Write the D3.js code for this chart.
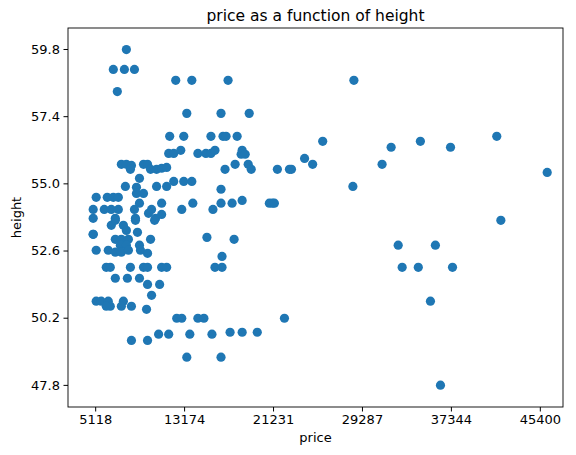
<!DOCTYPE html>
<html><head><meta charset="utf-8">
<script src="https://cdn.jsdelivr.net/npm/d3@7"></script>
<style>body{margin:0;background:#fff}text{font-family:"DejaVu Sans",sans-serif}</style>
</head><body><svg id="c" width="576" height="455"></svg>
<script>
const prices = [7945,6760,7763,8675,7124,12414,13873,17156,13417,16518,19072,11867,13144,15606,16700,16974,17977,
11776,12232,12870,14420,15150,15606,15971,18433,18342,18707,
7489,7945,8401,8310,9496,9861,10134,10681,11137,11593,16883,17795,18981,19254,
9131,7854,8858,8858,9496,10681,11593,12232,13144,13873,16518,
5209,6212,6760,7216,4936,5939,6577,7216,8675,9131,9952,10225,11137,11137,12961,13964,15788,16518,17521,18433,20896,
4936,6942,8766,10590,10499,4936,6577,6942,7672,8766,7945,8949,4936,6942,7489,8128,7398,7945,9131,10134,15241,17704,
5209,6304,6942,7489,8128,9222,9861,16609,6121,6486,8310,9496,9861,11137,11593,15971,16609,
6942,8036,9131,9861,10955,10225,5209,5665,6304,6486,6121,7672,7489,8401,9770,
12505,12961,14420,14968,8401,9861,10864,11776,13691,15697,17339,18433,19802,13417,16518,
21169,21625,22718,22900,24088,24818,25730,28556,28465,31110,31930,34580,37310,41500,46070,41870,32570,32930,34390,35940,35490,37490,36400,22264,21352];
const heights = [59.78,59.07,59.07,59.07,58.28,58.68,58.68,58.68,57.50,57.50,57.50,56.68,56.68,56.68,56.68,56.68,56.68,
56.07,56.07,56.18,56.07,56.07,56.07,56.18,56.18,56.04,56.04,
55.68,55.68,55.64,55.50,55.68,55.68,55.50,55.50,55.54,55.57,55.50,55.68,55.68,55.50,
55.18,54.89,54.86,54.64,54.64,54.89,54.89,55.07,55.07,55.07,54.79,
54.50,54.50,54.50,54.50,54.07,54.07,54.07,54.07,54.07,54.29,53.93,54.07,54.29,53.89,54.07,54.29,54.07,54.29,54.29,54.39,54.29,
53.75,53.75,53.75,53.75,53.68,53.18,53.50,53.68,53.50,53.68,53.32,53.25,53.18,53.00,53.00,53.00,52.79,52.79,52.79,53.00,53.07,53.00,
52.61,52.61,52.54,52.54,52.61,52.61,52.50,52.39,52.00,52.00,52.00,52.00,52.00,52.00,52.00,52.00,52.00,
51.61,51.61,51.61,51.39,51.39,51.00,50.79,50.79,50.79,50.61,50.61,50.79,50.61,50.61,50.50,
50.18,50.18,50.18,50.18,49.39,49.39,49.61,49.61,49.61,49.61,49.68,49.68,49.68,48.79,48.79,
54.29,55.50,55.50,55.50,55.89,55.68,56.50,58.68,54.89,55.68,56.29,56.50,56.29,56.68,55.39,53.68,52.79,52.00,52.00,52.79,50.79,52.00,47.79,50.18,54.29];
const xTicks = [5118,13174,21231,29287,37344,45400];
const yTicks = [47.8,50.2,52.6,55.0,57.4,59.8];

const svg = d3.select("#c");
const L=68,R=563,T=28,B=407;
const x = d3.scaleLinear().domain([2655,47500]).range([L,R]);
const y = d3.scaleLinear().domain([47.01,60.55]).range([B,T]);
svg.append("g").selectAll("circle").data(prices).join("circle")
 .attr("cx",(d,i)=>x(d)).attr("cy",(d,i)=>y(heights[i])).attr("r",4.6).attr("fill","#1f77b4");
const xa = svg.append("g").attr("transform",`translate(0,${B})`).call(d3.axisBottom(x).tickValues(xTicks).tickFormat(d3.format("d")).tickSize(4.5).tickPadding(3.5));
const ya = svg.append("g").attr("transform",`translate(${L},0)`).call(d3.axisLeft(y).tickValues(yTicks).tickFormat(d3.format(".1f")).tickSize(4.5).tickPadding(3.5));
[xa,ya].forEach(a=>{a.select(".domain").remove();a.selectAll("text").attr("font-size",13).attr("fill","#000").style("font-family","DejaVu Sans");});
svg.append("rect").attr("x",L).attr("y",T).attr("width",R-L).attr("height",B-T).attr("fill","none").attr("stroke","#000").attr("stroke-width",0.9);
svg.append("text").attr("x",(L+R)/2).attr("y",T-7).attr("text-anchor","middle").attr("font-size",15.5).text("price as a function of height");
svg.append("text").attr("x",(L+R)/2).attr("y",442).attr("text-anchor","middle").attr("font-size",13).text("price");
svg.append("text").attr("transform",`translate(21,${(T+B)/2}) rotate(-90)`).attr("text-anchor","middle").attr("font-size",13).text("height");
</script></body></html>
